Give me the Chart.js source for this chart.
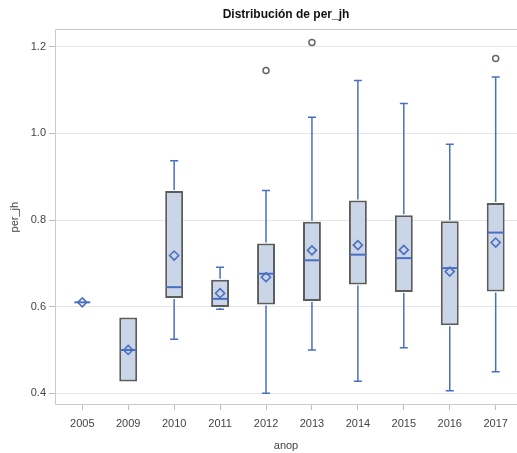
<!DOCTYPE html>
<html>
<head>
<meta charset="utf-8">
<script src="https://cdn.jsdelivr.net/npm/chart.js@4/dist/chart.umd.min.js"></script>
<style>
  html, body { margin: 0; padding: 0; background: #fff; }
  #wrap { width: 517px; height: 453px; }
</style>
</head>
<body>
<div id="wrap"><canvas id="c" width="517" height="453"></canvas></div>
<script>
// Box plot summary of per_jh by year (anop)
const years       = ['2005', '2009', '2010', '2011', '2012', '2013', '2014', '2015', '2016', '2017'];
const whiskerLow  = [0.610, 0.427, 0.525, 0.594, 0.400, 0.500, 0.428, 0.505, 0.406, 0.450];
const q1          = [0.610, 0.427, 0.620, 0.599, 0.605, 0.613, 0.651, 0.634, 0.557, 0.635];
const median      = [0.610, 0.500, 0.645, 0.618, 0.676, 0.707, 0.720, 0.712, 0.689, 0.771];
const q3          = [0.610, 0.575, 0.867, 0.662, 0.746, 0.796, 0.845, 0.811, 0.797, 0.839];
const whiskerHigh = [0.610, 0.575, 0.937, 0.691, 0.868, 1.037, 1.122, 1.069, 0.975, 1.130];
const means       = [0.610, 0.500, 0.718, 0.631, 0.668, 0.730, 0.742, 0.731, 0.681, 0.748];
const outliers    = [null, null, null, null, 1.145, 1.210, null, null, null, 1.173];
const yTicks      = [0.4, 0.6, 0.8, 1.0, 1.2];

const BLUE = '#4a6fc0';
const BOX_FILL = '#cad5e7';
const BOX_EDGE = '#5c5c5c';
const FONT = '"Liberation Sans", Arial, sans-serif';

// Whiskers, caps and median lines drawn on top of the box bars
const boxParts = {
  id: 'boxParts',
  afterDatasetDraw(chart, args) {
    if (args.index !== 0) return;
    const ctx = chart.ctx;
    const xs = chart.scales.x, ys = chart.scales.y;
    const meta = chart.getDatasetMeta(0);
    ctx.save();
    ctx.strokeStyle = BLUE;
    years.forEach((yr, i) => {
      const x = xs.getPixelForValue(i);
      const bar = meta.data[i];
      const half = bar.width / 2 - 1;
      const capHalf = 4;
      const yLo = ys.getPixelForValue(whiskerLow[i]);
      const yQ1 = ys.getPixelForValue(q1[i]);
      const yQ3 = ys.getPixelForValue(q3[i]);
      const yHi = ys.getPixelForValue(whiskerHigh[i]);
      const yMed = ys.getPixelForValue(median[i]);
      ctx.lineWidth = 1.5;
      ctx.beginPath();
      if (yLo - yQ1 > 0.5) {
        ctx.moveTo(x, yQ1 + 1); ctx.lineTo(x, yLo);
        ctx.moveTo(x - capHalf, yLo); ctx.lineTo(x + capHalf, yLo);
      }
      if (yQ3 - yHi > 0.5) {
        ctx.moveTo(x, yQ3 - 1); ctx.lineTo(x, yHi);
        ctx.moveTo(x - capHalf, yHi); ctx.lineTo(x + capHalf, yHi);
      }
      ctx.stroke();
      ctx.lineWidth = 2;
      ctx.beginPath();
      ctx.moveTo(x - half, yMed); ctx.lineTo(x + half, yMed);
      ctx.stroke();
    });
    ctx.restore();
  }
};

// Light frame on the left, top and bottom of the plotting area
const frame = {
  id: 'frame',
  afterDraw(chart) {
    const a = chart.chartArea, ctx = chart.ctx;
    const l = Math.round(a.left) + 0.5, t = Math.round(a.top) + 0.5, b = Math.round(a.bottom) - 0.5;
    ctx.save();
    ctx.strokeStyle = '#c9c9c9';
    ctx.lineWidth = 1;
    ctx.beginPath();
    ctx.moveTo(chart.width, t); ctx.lineTo(l, t); ctx.lineTo(l, b); ctx.lineTo(chart.width, b);
    ctx.stroke();
    ctx.restore();
  }
};

new Chart(document.getElementById('c'), {
  data: {
    datasets: [
      {
        type: 'bar',
        label: 'box',
        data: years.map((_, i) => ({ x: i, y: [q1[i], q3[i]] })),
        backgroundColor: BOX_FILL,
        borderColor: BOX_EDGE,
        borderWidth: 2,
        borderSkipped: false,
        categoryPercentage: 1,
        barPercentage: 0.39,
        order: 3
      },
      {
        type: 'line',
        label: 'mean',
        data: means.map((v, i) => ({ x: i, y: v })),
        showLine: false,
        pointStyle: 'rectRot',
        pointRadius: 4.5,
        pointBorderWidth: 1.6,
        pointBorderColor: BLUE,
        pointBackgroundColor: 'rgba(0,0,0,0)',
        order: 1
      },
      {
        type: 'line',
        label: 'outlier',
        data: outliers.map((v, i) => ({ x: i, y: v })),
        showLine: false,
        pointStyle: 'circle',
        pointRadius: 3,
        pointBorderWidth: 1.5,
        pointBorderColor: '#666666',
        pointBackgroundColor: '#ffffff',
        order: 2
      }
    ]
  },
  options: {
    responsive: false,
    animation: false,
    events: [],
    layout: { autoPadding: false, padding: { left: 0, right: 0, top: 0, bottom: 0 } },
    plugins: {
      legend: { display: false },
      tooltip: { enabled: false },
      title: {
        display: true,
        text: 'Distribución de per_jh',
        fullSize: false,
        color: '#111111',
        font: { family: FONT, size: 12, weight: 'bold' },
        padding: { top: 7, bottom: 8 }
      }
    },
    scales: {
      x: {
        type: 'linear',
        offset: false,
        min: -0.594,
        max: 9.464,
        afterBuildTicks(s) { s.ticks = years.map((_, i) => ({ value: i })); },
        grid: { display: true, offset: false, drawOnChartArea: false, drawTicks: true, tickLength: 5, color: '#bdbdbd' },
        border: { display: false },
        ticks: {
          color: '#444444',
          font: { family: FONT, size: 11 },
          padding: 7,
          maxRotation: 0,
          autoSkip: false,
          callback: v => years[v]
        },
        title: { display: true, text: 'anop', color: '#444444', font: { family: FONT, size: 11 }, padding: { top: 4, bottom: 0 } },
        afterFit(s) { s.height = 48; s.paddingRight = 0; s.paddingLeft = 0; }
      },
      y: {
        type: 'linear',
        min: 0.373,
        max: 1.24,
        afterBuildTicks(s) { s.ticks = yTicks.map(v => ({ value: v })); },
        grid: { color: '#e6e6e6', drawTicks: true, tickLength: 6, tickColor: '#bdbdbd' },
        border: { display: false },
        ticks: {
          color: '#444444',
          font: { family: FONT, size: 11 },
          padding: 3,
          callback: v => Number(v).toFixed(1)
        },
        title: { display: true, text: 'per_jh', color: '#444444', font: { family: FONT, size: 11 }, padding: { top: 8, bottom: 4 } },
        afterFit(s) { s.width = 55; }
      }
    }
  },
  plugins: [boxParts, frame]
});
</script>
</body>
</html>
